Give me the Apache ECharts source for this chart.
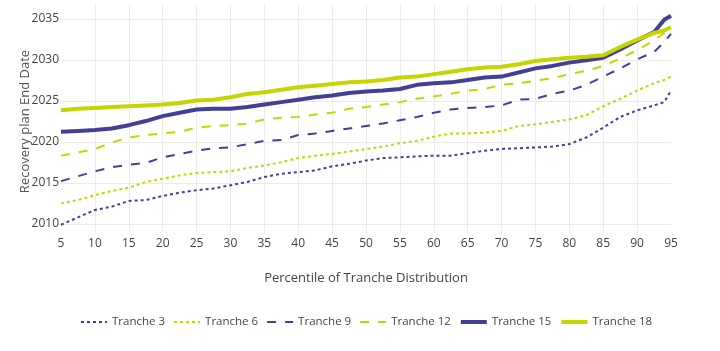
<!DOCTYPE html>
<html>
<head>
<meta charset="utf-8">
<script src="https://cdn.jsdelivr.net/npm/echarts@6/dist/echarts.min.js"></script>
<style>
  html, body { margin: 0; padding: 0; background: #fff; }
  #chart { width: 720px; height: 351px; }
</style>
</head>
<body>
<div id="chart"></div>
<script>
// percentiles (x)
const percentiles = [5, 7.5, 10, 12.5, 15, 17.5, 20, 22.5, 25, 27.5, 30, 32.5, 35, 37.5, 40, 42.5, 45, 47.5,
  50, 52.5, 55, 57.5, 60, 62.5, 65, 67.5, 70, 72.5, 75, 77.5, 80, 82.5, 85, 87.5, 90, 92.5, 94, 95]

// recovery plan end date per tranche
const tranche3 = [2010.0, 2010.9, 2011.8, 2012.2, 2012.9, 2013.0, 2013.5, 2013.9, 2014.2, 2014.4, 2014.8, 2015.2,
  2015.8, 2016.2, 2016.4, 2016.6, 2017.1, 2017.4, 2017.8, 2018.1, 2018.2, 2018.3, 2018.4, 2018.4, 2018.7, 2019.0,
  2019.2, 2019.3, 2019.4, 2019.5, 2019.8, 2020.6, 2021.8, 2023.1, 2023.9, 2024.5, 2024.9, 2026.3]
const tranche6 = [2012.6, 2013.0, 2013.6, 2014.1, 2014.5, 2015.2, 2015.6, 2016.0, 2016.3, 2016.4, 2016.5, 2016.9,
  2017.2, 2017.6, 2018.1, 2018.4, 2018.6, 2018.9, 2019.2, 2019.5, 2019.9, 2020.2, 2020.7, 2021.1, 2021.1, 2021.2,
  2021.4, 2022.0, 2022.2, 2022.5, 2022.8, 2023.3, 2024.4, 2025.3, 2026.3, 2027.2, 2027.6, 2028.0]
const tranche9 = [2015.3, 2015.9, 2016.5, 2017.0, 2017.3, 2017.5, 2018.2, 2018.6, 2019.0, 2019.3, 2019.4, 2019.8,
  2020.2, 2020.3, 2020.9, 2021.1, 2021.4, 2021.7, 2022.0, 2022.3, 2022.7, 2023.1, 2023.6, 2024.0, 2024.2, 2024.3,
  2024.5, 2025.2, 2025.3, 2025.9, 2026.3, 2027.0, 2028.0, 2029.0, 2030.1, 2031.0, 2032.2, 2033.2]
const tranche12 = [2018.4, 2018.8, 2019.2, 2020.0, 2020.6, 2020.9, 2021.1, 2021.3, 2021.8, 2022.0, 2022.1, 2022.3,
  2022.8, 2023.0, 2023.1, 2023.4, 2023.6, 2024.1, 2024.3, 2024.6, 2024.9, 2025.3, 2025.6, 2025.9, 2026.3, 2026.5,
  2027.0, 2027.2, 2027.5, 2027.8, 2028.3, 2028.7, 2029.3, 2030.2, 2031.2, 2032.4, 2033.3, 2033.7]
const tranche15 = [2021.3, 2021.4, 2021.5, 2021.7, 2022.1, 2022.6, 2023.2, 2023.6, 2024.0, 2024.1, 2024.1, 2024.3,
  2024.6, 2024.9, 2025.2, 2025.5, 2025.7, 2026.0, 2026.2, 2026.3, 2026.5, 2027.0, 2027.2, 2027.3, 2027.6, 2027.9,
  2028.0, 2028.5, 2029.0, 2029.3, 2029.7, 2030.0, 2030.3, 2031.3, 2032.4, 2033.4, 2034.9, 2035.4]
const tranche18 = [2023.9, 2024.1, 2024.2, 2024.3, 2024.4, 2024.5, 2024.6, 2024.8, 2025.1, 2025.2, 2025.5, 2025.9,
  2026.1, 2026.4, 2026.7, 2026.9, 2027.1, 2027.3, 2027.4, 2027.6, 2027.9, 2028.0, 2028.3, 2028.6, 2028.9, 2029.1,
  2029.2, 2029.5, 2029.9, 2030.1, 2030.3, 2030.4, 2030.6, 2031.6, 2032.5, 2033.3, 2033.6, 2034.0]

const BLUE = '#443f96'
const GREEN = '#c6d400'
const TEXT = '#444'
const FONT = '"Open Sans", sans-serif'

// name, values, colour, width, dash
const seriesDefs = [
  ['Tranche 3', tranche3, BLUE, 2, [3, 3]],
  ['Tranche 6', tranche6, GREEN, 2, [3, 3]],
  ['Tranche 9', tranche9, BLUE, 2, [9, 9]],
  ['Tranche 12', tranche12, GREEN, 2, [9, 9]],
  ['Tranche 15', tranche15, BLUE, 4, 'solid'],
  ['Tranche 18', tranche18, GREEN, 4, 'solid']
]

let chart = echarts.init(document.getElementById('chart'))

chart.setOption({
  animation: false,
  textStyle: { fontFamily: FONT, color: TEXT },
  // grid 0 holds the data (full plot box), grid 1 only draws the year grid + labels
  grid: [
    { left: 61, right: 49, top: 5, bottom: 118 },
    { left: 61, right: 49, top: 19, bottom: 127 }
  ],
  xAxis: [
    {
      gridIndex: 0, type: 'value', min: 5, max: 95, interval: 5,
      name: 'Percentile of Tranche Distribution', nameLocation: 'middle', nameGap: 39,
      nameTextStyle: { fontSize: 13, color: TEXT, fontFamily: FONT },
      axisLine: { show: false }, axisTick: { show: false },
      axisLabel: { fontSize: 12, color: TEXT, margin: 5, fontFamily: FONT },
      splitLine: { show: true, showMinLine: false, showMaxLine: false, lineStyle: { color: '#ebebeb', width: 1 } }
    },
    { gridIndex: 1, type: 'value', min: 5, max: 95, show: false }
  ],
  yAxis: [
    {
      gridIndex: 0, type: 'value', min: 2009, max: 2036.7,
      axisLine: { show: false }, axisTick: { show: false }, axisLabel: { show: false }, splitLine: { show: false }
    },
    {
      gridIndex: 1, type: 'value', min: 2010, max: 2035, interval: 5,
      name: 'Recovery plan End Date', nameLocation: 'middle', nameGap: 29, nameMoveOverlap: false,
      nameTextStyle: { fontSize: 13, color: '#555', fontFamily: FONT },
      axisLine: { show: false }, axisTick: { show: false },
      axisLabel: { fontSize: 12, color: TEXT, margin: 2, fontFamily: FONT, formatter: v => String(v) },
      splitLine: { show: true, lineStyle: { color: '#ebebeb', width: 1 } }
    }
  ],
  legend: {
    left: 75, top: 311, itemWidth: 26, itemHeight: 10, itemGap: 8,
    itemStyle: { opacity: 0 },   // hide the circle, keep the line
    lineStyle: { width: 'inherit' },
    textStyle: { fontSize: 11.5, color: TEXT, fontFamily: FONT },
    data: seriesDefs.map(d => d[0])
  },
  series: seriesDefs.map(d => ({
    name: d[0],
    type: 'line',
    xAxisIndex: 0,
    yAxisIndex: 0,
    showSymbol: false,
    symbol: 'none',
    data: percentiles.map((p, i) => [p, d[1][i]]),
    lineStyle: { color: d[2], width: d[3], type: d[4] },
    itemStyle: { color: d[2] }
  }))
})
</script>
</body>
</html>
